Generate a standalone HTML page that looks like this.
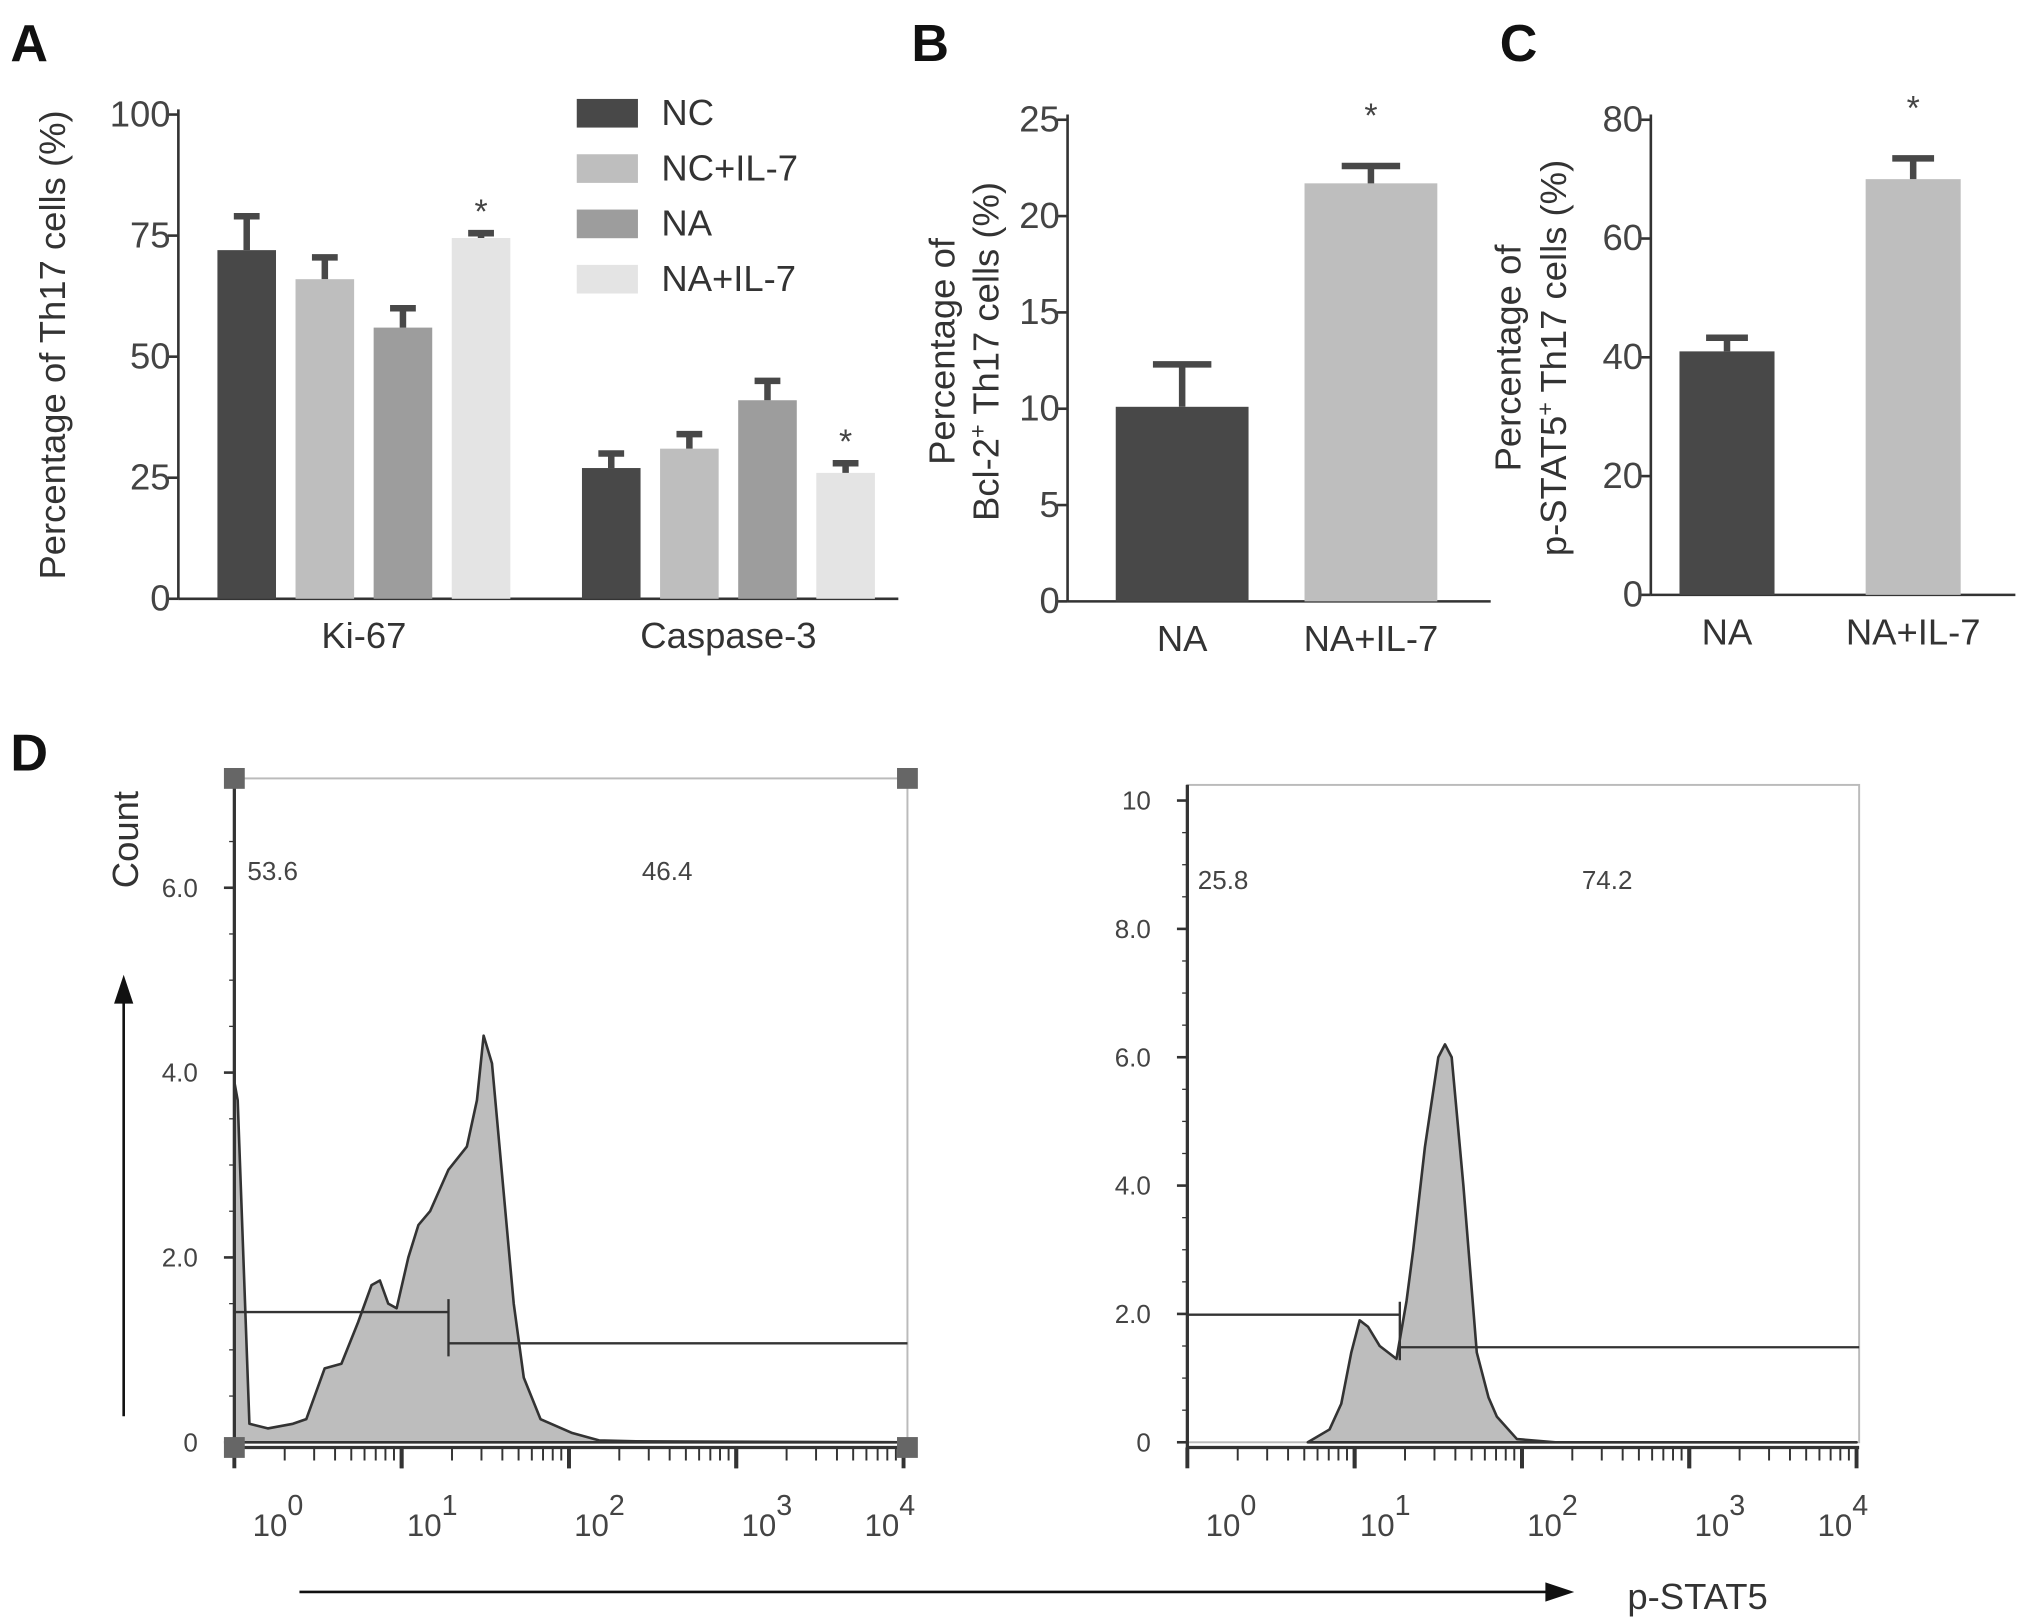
<!DOCTYPE html>
<html><head><meta charset="utf-8"><style>
html,body{margin:0;padding:0;background:#fff;}
svg{display:block;font-family:"Liberation Sans",sans-serif;}
</style></head><body>
<svg id="fig" width="2031" height="1618" viewBox="0 0 1560 1243" preserveAspectRatio="none" xmlns="http://www.w3.org/2000/svg">
<g fill="#111" font-weight="bold" font-size="40">
<text x="8" y="47">A</text>
<text x="700" y="47">B</text>
<text x="1152" y="47">C</text>
<text x="8" y="592">D</text>
</g>
<g id="A"></g>
<g id="B"></g>
<g id="C"></g>
<g id="D1"></g>
<g id="D2"></g>
<g fill="#333" font-size="28">
<text x="50" y="265" transform="rotate(-90 50 265)" text-anchor="middle">Percentage of Th17 cells (%)</text>
<text x="733" y="270" transform="rotate(-90 733 270)" text-anchor="middle">Percentage of</text>
<text x="767" y="270" transform="rotate(-90 767 270)" text-anchor="middle">Bcl-2<tspan baseline-shift="super" font-size="18">+</tspan> Th17 cells (%)</text>
<text x="1168" y="275" transform="rotate(-90 1168 275)" text-anchor="middle">Percentage of</text>
<text x="1203" y="275" transform="rotate(-90 1203 275)" text-anchor="middle">p-STAT5<tspan baseline-shift="super" font-size="18">+</tspan> Th17 cells (%)</text>
<text x="106" y="645" transform="rotate(-90 106 645)" text-anchor="middle">Count</text>
<text x="1250" y="1236">p-STAT5</text>
</g>
<g stroke="#111" stroke-width="2" fill="#111">
<line x1="95" y1="1088" x2="95" y2="765"/>
<polygon points="95,752 89,770 101,770"/>
<line x1="230" y1="1223" x2="1192" y2="1223"/>
<polygon points="1206,1223 1188,1217 1188,1229"/>
</g>
</svg>
<script>
const NS="http://www.w3.org/2000/svg";
function el(p,t,a,txt){const e=document.createElementNS(NS,t);for(const k in a)e.setAttribute(k,a[k]);if(txt!==undefined)e.textContent=txt;p.appendChild(e);return e;}

// Panel A data
const aGroups=["Ki-67","Caspase-3"];
const aSeries=["NC","NC+IL-7","NA","NA+IL-7"];
const aColors=["#484848","#bebebe","#9d9d9d","#e4e4e4"];
const aValues=[[72,66,56,74.5],[27,31,41,26]];
const aErrors=[[7,4.5,4,1],[3,3,4,2]];
const aStars=[[0,0,0,1],[0,0,0,1]];
const aTicks=[0,25,50,75,100];
// Panel B data
const bCats=["NA","NA+IL-7"];const bValues=[10.1,21.7];const bErrors=[2.2,0.9];const bStars=[0,1];const bTicks=[0,5,10,15,20,25];
// Panel C data
const cCats=["NA","NA+IL-7"];const cValues=[41,70];const cErrors=[2.3,3.5];const cStars=[0,1];const cTicks=[0,20,40,60,80];
// Histograms: log10 fluorescence, count
const h1Log=[0,0.02,0.09,0.2,0.35,0.43,0.54,0.64,0.74,0.82,0.87,0.92,0.97,1.04,1.1,1.17,1.28,1.39,1.45,1.49,1.54,1.6,1.67,1.73,1.83,2.02,2.18,2.4,4];
const h1Cnt=[3.9,3.7,0.2,0.15,0.2,0.25,0.8,0.85,1.3,1.7,1.75,1.5,1.45,2.0,2.35,2.5,2.95,3.2,3.7,4.4,4.1,2.9,1.5,0.7,0.25,0.1,0.02,0.01,0];
const h2Log=[0.72,0.85,0.92,0.98,1.03,1.08,1.15,1.25,1.31,1.35,1.42,1.5,1.54,1.58,1.65,1.73,1.8,1.85,1.97,2.2,4];
const h2Cnt=[0,0.2,0.6,1.4,1.9,1.8,1.5,1.3,2.2,3.0,4.6,6.0,6.2,6.0,4.0,1.4,0.7,0.4,0.05,0,0];

function barChart(g,o){
  const y=v=>o.y0-(v/o.max)*(o.y0-o.y1);
  el(g,"line",{x1:o.ax,y1:y(o.max)-4,x2:o.ax,y2:o.y0,stroke:"#333","stroke-width":2,});
  el(g,"line",{x1:o.ax,y1:o.y0,x2:o.axEnd,y2:o.y0,stroke:"#333","stroke-width":2,});
  o.ticks.forEach(t=>{
    const l=el(g,"line",{x1:o.ax-8,y1:y(t),x2:o.ax,y2:y(t),stroke:"#333","stroke-width":2});
    
    
    const tx=el(g,"text",{x:o.ax-6,y:y(t)+9,"text-anchor":"end","font-size":28,fill:"#444"},String(t));
    
    
  });
  o.bars.forEach(b=>{
    const r=el(g,"rect",{x:b.x,y:y(b.v),width:b.w,height:o.y0-y(b.v),fill:b.c});
    
    
    const cx=b.x+b.w/2;
    const e=el(g,"path",{d:`M${cx},${y(b.v)} V${y(b.v+b.e)} M${cx-b.w*0.22},${y(b.v+b.e)} H${cx+b.w*0.22}`,stroke:"#484848","stroke-width":5,fill:"none"});
    
    
    if(b.s){const s=el(g,"text",{x:cx,y:y(b.v+b.e)-o.starGap,"text-anchor":"middle","font-size":26,fill:"#444"},"*");
      
      }
  });
  o.labels.forEach(l=>{const t=el(g,"text",{x:l.x,y:o.y0+38,"text-anchor":"middle","font-size":28,fill:"#333"},l.t);
    
    });
}
// A
(function(){
  const bars=[],labels=[];const gStart=[167,447],w=45,step=60;
  aGroups.forEach((gn,gi)=>{aSeries.forEach((s,si)=>bars.push({x:gStart[gi]+si*step,w:w,v:aValues[gi][si],e:aErrors[gi][si],c:aColors[si],s:aStars[gi][si]}));
    labels.push({x:gStart[gi]+1.5*step+w/2,t:gn});});
  barChart(document.getElementById("A"),{ax:137,axEnd:690,y0:460,y1:88,max:100,ticks:aTicks,bars,labels,starGap:8});
  const g=document.getElementById("A");
  aSeries.forEach((s,i)=>{
    const r=el(g,"rect",{x:443,y:76+i*42.5,width:47,height:22,fill:aColors[i]});
    
    
    const t=el(g,"text",{x:508,y:96+i*42.5,"font-size":28,fill:"#333"},s);
    
    
  });
})();
// B
(function(){
  const xs=[857,1002],w=102,cols=["#484848","#bebebe"];
  barChart(document.getElementById("B"),{ax:820,axEnd:1145,y0:462,y1:92,max:25,ticks:bTicks,
    bars:bCats.map((c,i)=>({x:xs[i],w:w,v:bValues[i],e:bErrors[i],c:cols[i],s:bStars[i]})),
    labels:bCats.map((c,i)=>({x:xs[i]+w/2,t:c})),starGap:30});
})();
// C
(function(){
  const xs=[1290,1433],w=73,cols=["#484848","#bebebe"];
  barChart(document.getElementById("C"),{ax:1268,axEnd:1548,y0:457,y1:92,max:80,ticks:cTicks,
    bars:cCats.map((c,i)=>({x:xs[i],w:w,v:cValues[i],e:cErrors[i],c:cols[i],s:cStars[i]})),
    labels:cCats.map((c,i)=>({x:xs[i]+w/2,t:c})),starGap:30});
})();
// D
function hist(g,o){
  const X=l=>o.x0+l*o.dec, Y=c=>o.y0-c*o.py;
  el(g,"rect",{x:o.x0,y:o.top,width:o.x1-o.x0,height:o.y0-o.top,fill:"none",stroke:"#bbb","stroke-width":1.5,});
  let d=`M${X(o.L[0])},${Y(0)}`;o.L.forEach((l,i)=>d+=` L${X(l)},${Y(o.C[i])}`);d+=` L${X(o.L[o.L.length-1])},${Y(0)} Z`;
  const p=el(g,"path",{d:d,fill:"#bdbdbd",stroke:"#333","stroke-width":2,"stroke-linejoin":"round"});
  
  
  el(g,"line",{x1:o.x0,y1:o.top,x2:o.x0,y2:o.y0+8,stroke:"#333","stroke-width":2.5,});
  el(g,"line",{x1:o.x0,y1:o.y0+4,x2:o.x1,y2:o.y0+4,stroke:"#333","stroke-width":2.5,});
  for(let k=0;k<4;k++)for(let m=1;m<=10;m++){const xx=X(k+Math.log10(m));const maj=(m===1||m===10);
    const t=el(g,"line",{x1:xx,y1:o.y0+4,x2:xx,y2:o.y0+(maj?20:14),stroke:"#333","stroke-width":maj?3:1.5});
    
    }
  for(let k=0;k<=4;k++){const t=el(g,"text",{x:X(k)+(k===0?14:k===4?-30:4),y:o.y0+72,"font-size":24,fill:"#444"});
    
    
    t.innerHTML=`10<tspan dy="-16" font-size="22">${k}</tspan>`;}
  o.yt.forEach(v=>{const yy=Y(v);
    const l=el(g,"line",{x1:o.x0-8,y1:yy,x2:o.x0,y2:yy,stroke:"#333","stroke-width":2});
    
    
    const t=el(g,"text",{x:o.x0-28,y:yy+7,"text-anchor":"end","font-size":20,fill:"#444"},v===0?"0":(v>=10?String(v):v.toFixed(1)));
    
    });
  for(let v=0;v<o.ymax;v+=o.minor){const yy=Y(v);const l=el(g,"line",{x1:o.x0-4,y1:yy,x2:o.x0,y2:yy,stroke:"#333","stroke-width":1});
    
    }
  const gx=X(o.gate);
  const gl=el(g,"path",{d:`M${o.x0},${o.g1} H${gx} M${gx},${o.g1-10} V${o.g2+10} M${gx},${o.g2} H${o.x1}`,stroke:"#333","stroke-width":1.8,fill:"none"});
  
  
  o.pct.forEach(p=>{const t=el(g,"text",{x:p.x,y:o.pcY,"font-size":20,fill:"#444"},p.t);
    
    });
}
hist(document.getElementById("D1"),{x0:180,x1:697,top:598,y0:1108,dec:128.5,py:71,L:h1Log,C:h1Cnt,yt:[0,2,4,6],ymax:7,minor:0.5,gate:1.28,g1:1008,g2:1032,pcY:676,pct:[{x:190,t:"53.6"},{x:493,t:"46.4"}]});
hist(document.getElementById("D2"),{x0:912,x1:1428,top:603,y0:1108,dec:128.5,py:49.3,L:h2Log,C:h2Cnt,yt:[0,2,4,6,8,10],ymax:10,minor:0.5,gate:1.27,g1:1010,g2:1035,pcY:683,pct:[{x:920,t:"25.8"},{x:1215,t:"74.2"}]});
[[180,598],[697,598],[180,1112],[697,1112]].forEach(p=>{const r=el(document.getElementById("D1"),"rect",{x:p[0]-8,y:p[1]-8,width:16,height:16,fill:"#666"});
  
  });
</script>
</body></html>
